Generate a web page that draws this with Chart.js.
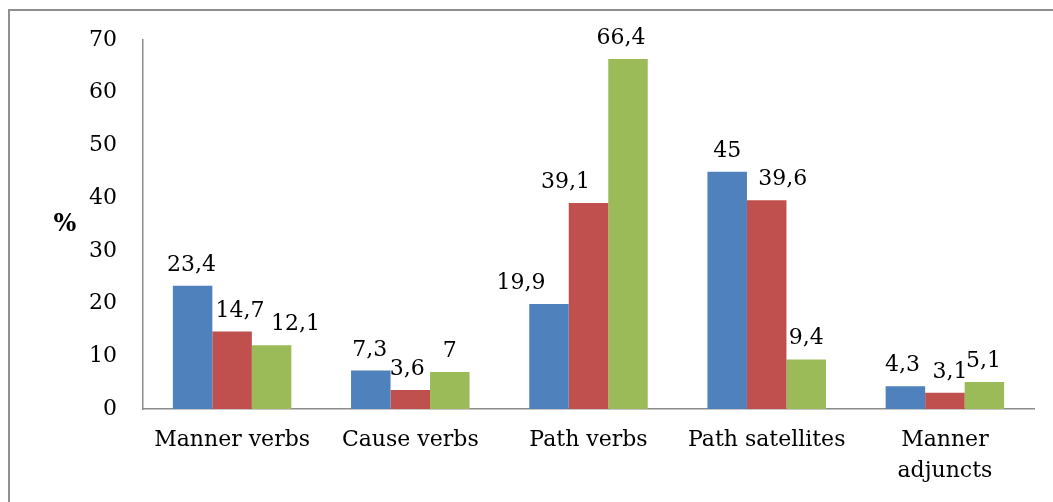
<!DOCTYPE html>
<html>
<head>
<meta charset="utf-8">
<script src="https://cdn.jsdelivr.net/npm/chart.js@4"></script>
<style>
  html, body { margin: 0; padding: 0; background: #fff; overflow: hidden; }
  #frame {
    position: absolute; left: 8px; top: 9px; width: 1100px; height: 600px;
    border-top: 2px solid #8f8f8f; border-left: 2px solid #8f8f8f;
  }
  #chart { position: absolute; left: 0; top: 0; }
</style>
</head>
<body>
<div id="frame"></div>
<canvas id="chart" width="1053" height="502"></canvas>
<script>
// categories and the three series
const categories = ["Manner verbs", "Cause verbs", "Path verbs", "Path satellites", ["Manner", "adjuncts"]];
const seriesA = [23.4, 7.3, 19.9, 45, 4.3];
const seriesB = [14.7, 3.6, 39.1, 39.6, 3.1];
const seriesC = [12.1, 7, 66.4, 9.4, 5.1];
const yTicks = [0, 10, 20, 30, 40, 50, 60, 70];

const FONT = "'DejaVu Serif', serif";

/**
 * Draws the value above each bar (decimal comma), and the "%" axis caption.
 */
const barValueLabels = {
    id: "barValueLabels",
    afterDatasetsDraw(chart, args, opts) {
        const ctx = chart.ctx;
        ctx.save();
        ctx.font = "22px " + FONT;
        ctx.fillStyle = "#000";
        ctx.textAlign = "center";
        ctx.textBaseline = "alphabetic";
        chart.data.datasets.forEach((ds, i) => {
            const meta = chart.getDatasetMeta(i);
            const nudge = opts.nudge[i] || [];
            meta.data.forEach((bar, j) => {
                const txt = String(ds.data[j]).replace(".", ",");
                ctx.fillText(txt, bar.x + (nudge[j] || 0), bar.y - 15);
            });
        });
        // horizontal "%" caption left of the axis
        const area = chart.chartArea;
        ctx.font = "bold 24px " + FONT;
        ctx.textBaseline = "middle";
        ctx.fillText("%", area.left - 78, (area.top + area.bottom) / 2);
        ctx.restore();
    }
};

new Chart(document.getElementById("chart"), {
    type: "bar",
    data: {
        labels: categories,
        datasets: [
            {data: seriesA, backgroundColor: "#4F81BD"},
            {data: seriesB, backgroundColor: "#C0504D"},
            {data: seriesC, backgroundColor: "#9BBB59"}
        ]
    },
    options: {
        responsive: false,
        animation: false,
        datasets: {bar: {barPercentage: 1, categoryPercentage: 0.665}},
        layout: {padding: {left: 0, right: 19, top: 40, bottom: 0}},
        plugins: {
            legend: {display: false},
            tooltip: {enabled: false},
            // Excel placed some labels off-centre; keep that look
            barValueLabels: {
                nudge: [
                    [-1, -1, -28, 0, -3],
                    [8, -3, -23, 16, 5],
                    [24, 0, -7, 0, -1]
                ]
            }
        },
        scales: {
            x: {
                grid: {display: false, drawTicks: false},
                border: {display: true, color: "#8c8c8c", width: 1.5},
                ticks: {color: "#000", padding: 16, maxRotation: 0, autoSkip: false,
                        font: {family: FONT, size: 22, lineHeight: 1.4}},
                afterFit(scale) { scale.height = 93; }
            },
            y: {
                min: yTicks[0],
                max: yTicks[yTicks.length - 1],
                afterBuildTicks(scale) { scale.ticks = yTicks.map(v => ({value: v})); },
                grid: {display: false, drawTicks: false},
                border: {display: true, color: "#8c8c8c", width: 1.5},
                ticks: {color: "#000", padding: 26, font: {family: FONT, size: 22}},
                afterFit(scale) { scale.width = 143; }
            }
        }
    },
    plugins: [barValueLabels]
});
</script>
</body>
</html>
